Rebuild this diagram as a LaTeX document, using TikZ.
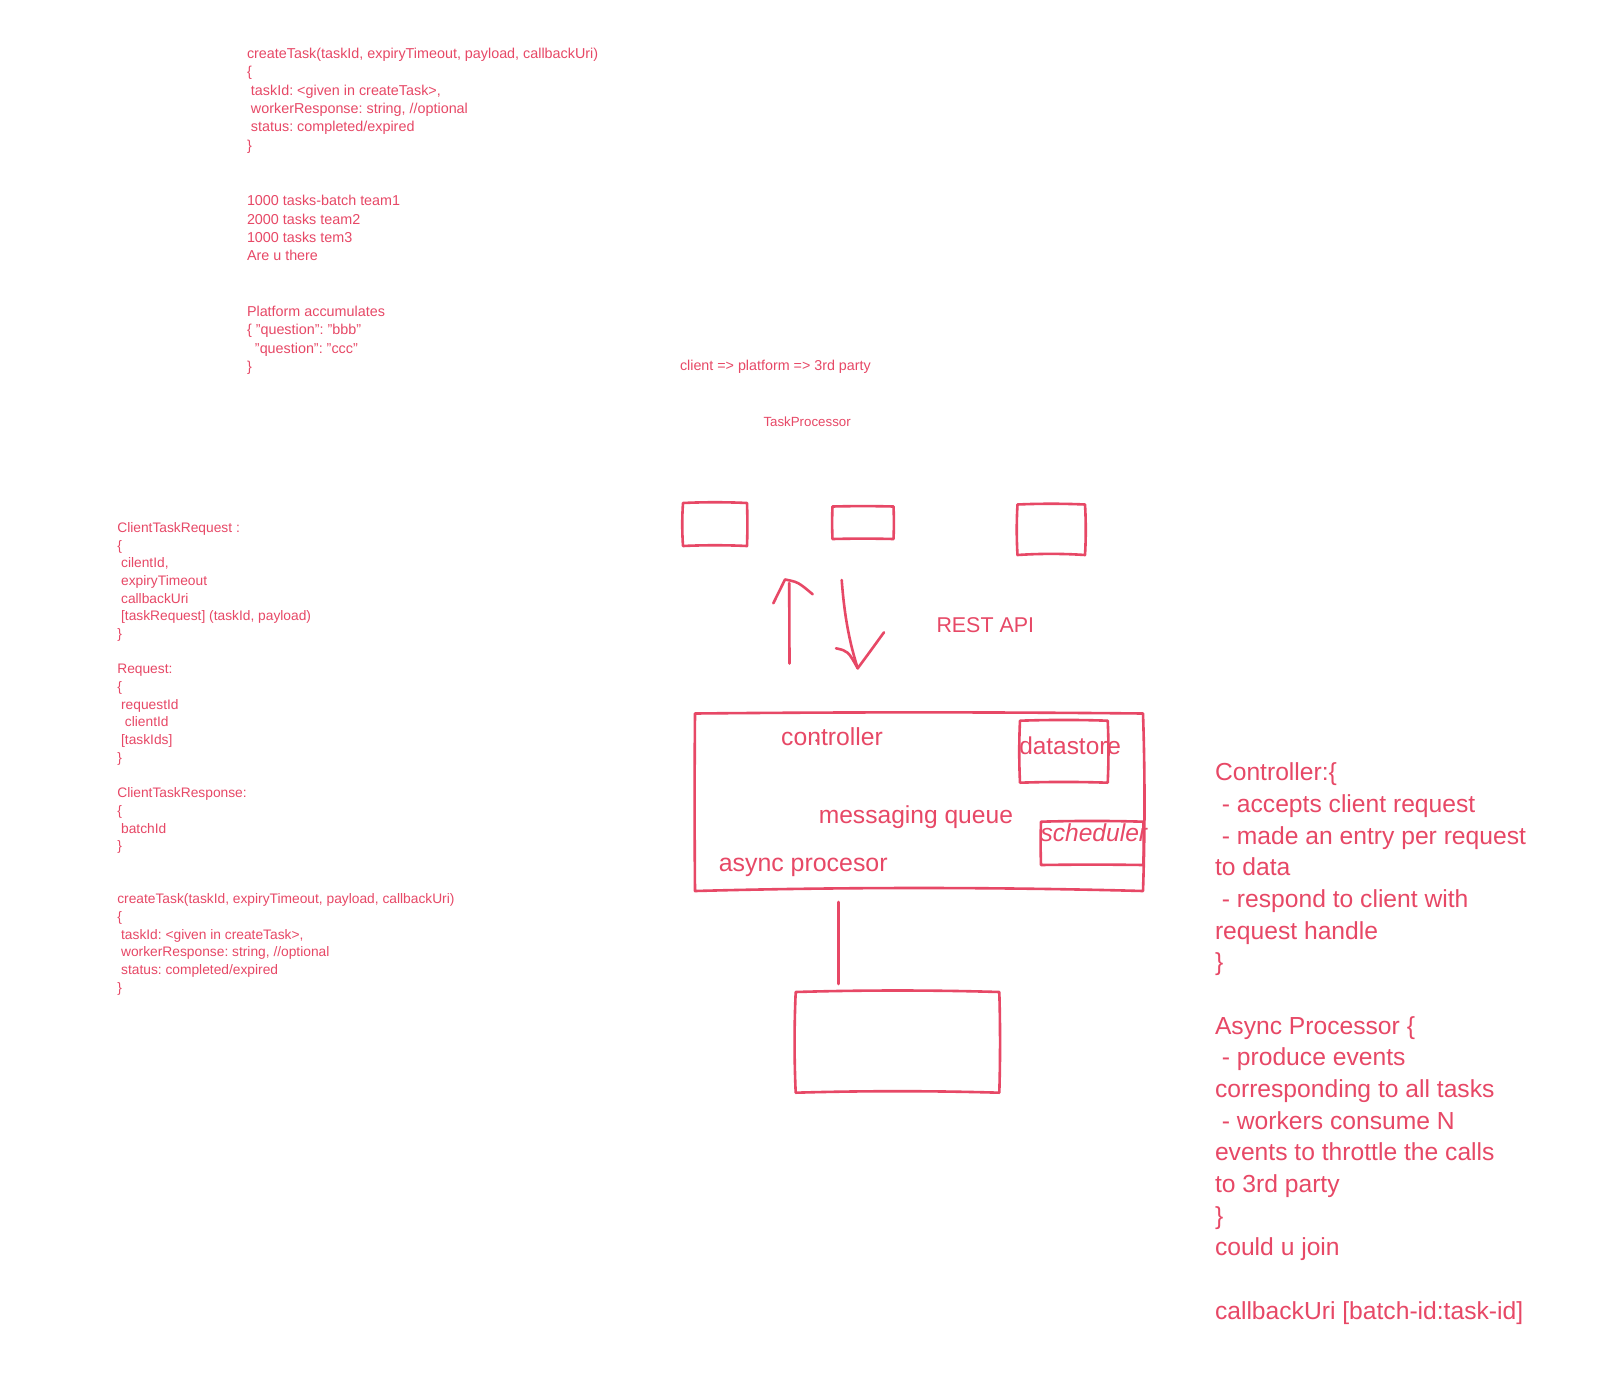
\documentclass[tikz,border=0pt]{standalone}
\usepackage{fontspec}
\setmainfont{Liberation Sans}
\usetikzlibrary{calc}
\definecolor{ink}{RGB}{231,72,102}
\frenchspacing
\newcommand\Ln[1]{\hbox{#1}}
\newcommand\Blank{\hbox{}}
% #1 node name, #2 top, #3 right, #4 bottom, #5 left bow (outward positive, in px)
\newcommand\sketchrect[5]{%
  \draw[stroke] (#1.north west)
    .. controls ($(#1.north west)!.33!(#1.north east)+(0,{-(#2)})$) and ($(#1.north west)!.67!(#1.north east)+(0,{-(#2)})$) .. (#1.north east)
    .. controls ($(#1.north east)!.33!(#1.south east)+({#3},0)$) and ($(#1.north east)!.67!(#1.south east)+({#3},0)$) .. (#1.south east)
    .. controls ($(#1.south east)!.33!(#1.south west)+(0,{#4})$) and ($(#1.south east)!.67!(#1.south west)+(0,{#4})$) .. (#1.south west)
    .. controls ($(#1.south west)!.33!(#1.north west)+({-(#5)},0)$) and ($(#1.south west)!.67!(#1.north west)+({-(#5)},0)$) .. (#1.north west) -- cycle;}
\begin{document}
\begin{tikzpicture}[x=1pt,y=-1pt,
  stroke/.style={draw=ink, line width=2.6pt, line join=round, line cap=round},
  txt/.style={text=ink, inner sep=0pt, outer sep=0pt, anchor=base west},
  frame/.style={inner sep=0pt, outer sep=0pt, draw=none, rectangle}]
\useasboundingbox (0,0) rectangle (1620,1374);
\fill[white] (0,0) rectangle (1620,1374);

% ---------- top notes ----------
\node[txt] (topnotes) at (247,58.3) {\fontsize{14.35}{18.42}\selectfont\vtop{
  \Ln{createTask(taskId, expiryTimeout, payload, callbackUri)}
  \Ln{\{}
  \Ln{\ taskId: <given in createTask>,}
  \Ln{\ workerResponse: string, //optional}
  \Ln{\ status: completed/expired}
  \Ln{\}}
  \Blank
  \Blank
  \Ln{1000 tasks-batch team1}
  \Ln{2000 tasks team2}
  \Ln{1000 tasks tem3}
  \Ln{Are u there}
  \Blank
  \Blank
  \Ln{Platform accumulates}
  \Ln{\{ "question": "bbb"}
  \Ln{\ \ "question": "ccc"}
  \Ln{\}}
}};

% ---------- left notes ----------
\node[txt] (leftnotes) at (117.3,532.5) {\fontsize{13.78}{17.68}\selectfont\vtop{
  \Ln{ClientTaskRequest :}
  \Ln{\{}
  \Ln{\ cilentId,}
  \Ln{\ expiryTimeout}
  \Ln{\ callbackUri}
  \Ln{\ [taskRequest] (taskId, payload)}
  \Ln{\}}
  \Blank
  \Ln{Request:}
  \Ln{\{}
  \Ln{\ requestId}
  \Ln{\ \ clientId}
  \Ln{\ [taskIds]}
  \Ln{\}}
  \Blank
  \Ln{ClientTaskResponse:}
  \Ln{\{}
  \Ln{\ batchId}
  \Ln{\}}
  \Blank
  \Blank
  \Ln{createTask(taskId, expiryTimeout, payload, callbackUri)}
  \Ln{\{}
  \Ln{\ taskId: <given in createTask>,}
  \Ln{\ workerResponse: string, //optional}
  \Ln{\ status: completed/expired}
  \Ln{\}}
}};

% ---------- right notes ----------
\node[txt] (rightnotes) at (1215,780.7) {\fontsize{24.65}{31.67}\selectfont\vtop{
  \Ln{Controller:\{}
  \Ln{\ - accepts client request}
  \Ln{\ - made an entry per request}
  \Ln{to data}
  \Ln{\ - respond to client with}
  \Ln{request handle}
  \Ln{\}}
  \Blank
  \Ln{Async Processor \{}
  \Ln{\ - produce events}
  \Ln{corresponding to all tasks}
  \Ln{\ - workers consume N}
  \Ln{events to throttle the calls}
  \Ln{to 3rd party}
  \Ln{\}}
  \Ln{could u join}
  \Blank
  \Ln{callbackUri [batch-id:task-id]}
}};

% ---------- middle labels ----------
\node[txt, font=\fontsize{14.3}{17}\selectfont] (flow) at (680,370.5) {client => platform => 3rd party};
\node[txt, font=\fontsize{13.3}{16}\selectfont] (tp) at (763.5,426.5) {TaskProcessor};
\node[txt, font=\fontsize{21.4}{25}\selectfont] (rest) at (936.5,632.7) {REST API};

% ---------- boxes ----------
\node[frame, minimum width=64pt,  minimum height=43pt]   (b1)  at (715,524.5) {};
\node[frame, minimum width=61pt,  minimum height=32.5pt] (b2)  at (863,522.75) {};
\node[frame, minimum width=67.5pt,minimum height=50.5pt] (b3)  at (1051.25,529.75) {};
\node[frame, minimum width=448pt, minimum height=177.5pt](big) at (919,802.25) {};
\node[frame, minimum width=87.7pt,minimum height=62pt]   (ds)  at (1063.85,751.7) {};
\node[frame, minimum width=102.3pt,minimum height=43.3pt](sch) at (1092.15,843.35) {};
\node[frame, minimum width=203.6pt,minimum height=100.7pt](bot) at (897.5,1042.35) {};

\sketchrect{b1}{1}{0.5}{-1}{1}
\sketchrect{b2}{0.5}{0.5}{-0.5}{0.5}
\sketchrect{b3}{1}{1}{-1.5}{1}
\sketchrect{big}{1.5}{2}{-4}{0.5}
\sketchrect{ds}{1}{1}{-1}{1}
\sketchrect{sch}{1}{0.5}{-0.5}{0.5}
\sketchrect{bot}{2}{1}{-2}{1.5}

% ---------- labels in the big box ----------
\node[txt, font=\fontsize{24.7}{29}\selectfont] (ctrl)   at (781.2,745)   {controller};
\node[txt, font=\fontsize{24.4}{29}\selectfont] (dstxt)  at (1019.3,754.8) {datastore};
\node[txt, font=\fontsize{24.6}{29}\selectfont] (mq)     at (818.8,823.8) {messaging queue};
\node[txt, font=\fontsize{24.6}{29}\selectfont\itshape] (schtxt) at (1040.5,841.8) {scheduler};
\node[txt, font=\fontsize{24.9}{29}\selectfont] (async)  at (718.8,871.5) {async procesor};
\fill[ink] (816.5,740.5) circle (1.4);

% ---------- arrows ----------
\coordinate (upTail) at (789.5,663.5);
\coordinate (upTop)  at (789.2,583);
\coordinate (upApex) at (785,579.5);
\coordinate (upL)    at (773.3,603.3);
\coordinate (upR)    at (812.7,594.3);
\draw[stroke] (upTail) -- (upTop);
\draw[stroke] (upL) -- (upApex) .. controls (798,582) .. (upR);

\coordinate (dnTail) at (841.7,580);
\coordinate (dnTip)  at (857.7,668.3);
\coordinate (dnL)    at (836,648.3);
\coordinate (dnR)    at (884,632.3);
\draw[stroke] (dnTail) .. controls (845,625) and (852,650) .. (dnTip);
\draw[stroke] (dnL) .. controls (848,651) .. (dnTip);
\draw[stroke] (dnTip) .. controls (869,653) .. (dnR);

% ---------- link big box -> bottom box ----------
\coordinate (linkTop) at (838.3,902);
\coordinate (linkBot) at (838.3,984);
\draw[stroke] (linkTop) -- (linkBot);
\end{tikzpicture}
\end{document}
